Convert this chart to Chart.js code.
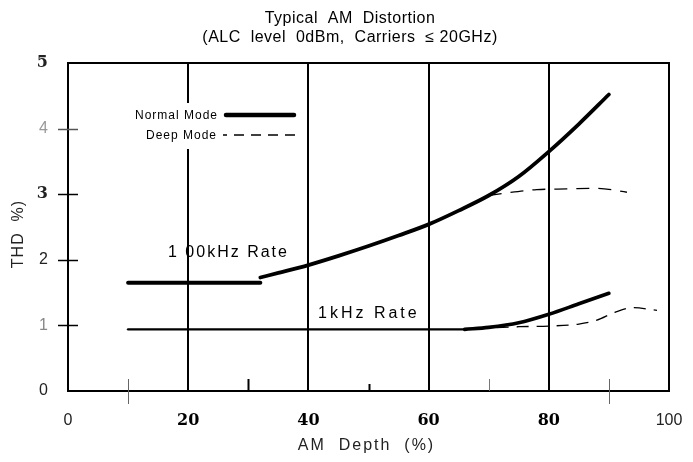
<!DOCTYPE html>
<html><head><meta charset="utf-8">
<script src="https://cdn.jsdelivr.net/npm/chart.js@4.4.1/dist/chart.umd.min.js"></script>
<style>html,body{margin:0;padding:0;background:#fff;} canvas{display:block;}</style>
</head><body>
<canvas id="c" width="693" height="462"></canvas>
<script>
// ---- data ----
const xTickValues = [0, 20, 40, 60, 80, 100];
const yTickValues = [0, 1, 2, 3, 4, 5];
const normal100kFlatX = [10, 32];
const normal100kFlatY = [1.65, 1.65];
const normal100kX = [32, 35, 40, 45, 50, 55, 60, 65, 70, 75, 80, 85, 90];
const normal100kY = [1.73, 1.80, 1.92, 2.06, 2.21, 2.37, 2.54, 2.75, 2.98, 3.27, 3.65, 4.07, 4.52];
const deep100kX = [70, 73, 78, 83, 88, 93];
const deep100kY = [2.98, 3.02, 3.07, 3.08, 3.09, 3.03];
const normal1kFlatX = [10, 66];
const normal1kFlatY = [0.94, 0.94];
const normal1kX = [66, 70, 75, 80, 85, 90];
const normal1kY = [0.94, 0.97, 1.04, 1.17, 1.33, 1.49];
const deep1kX = [68, 75, 80, 85, 88, 91, 94, 98];
const deep1kY = [0.95, 0.98, 0.99, 1.02, 1.08, 1.20, 1.27, 1.23];
const minorXTicks = [10, 30, 50, 70, 90];
const titleLines = ['Typical  AM  Distortion', '(ALC  level  0dBm,  Carriers  \u2264 20GHz)'];
const xAxisTitle = 'AM  Depth  (%)';
const yAxisTitle = 'THD  %)';
const legendLabels = ['Normal Mode', 'Deep Mode'];
const rateLabels = ['1 00kHz Rate', '1kHz Rate'];

const pts = (xs, ys) => xs.map((x, i) => ({x: x, y: ys[i]}));
const base = {borderColor: '#000', pointRadius: 0, fill: false, cubicInterpolationMode: 'monotone', borderCapStyle: 'round', borderJoinStyle: 'round'};

const boldSerif = {family: '"DejaVu Serif", serif', size: 16, weight: 'bold'};
const plainSans = {family: '"Liberation Sans", Arial, sans-serif', size: 16, weight: 'normal'};

const deco = {
  id: 'deco',
  beforeDatasetsDraw(chart) {
    const {ctx} = chart;
    ctx.save();
    // white patch behind legend text
    ctx.fillStyle = '#fff';
    ctx.fillRect(126, 103, 96, 46);
    // legend
    ctx.fillStyle = '#000';
    ctx.font = '12px "Liberation Sans", Arial, sans-serif';
    ctx.letterSpacing = '1px';
    ctx.textAlign = 'right';
    ctx.textBaseline = 'middle';
    ctx.fillText(legendLabels[0], 218, 116);
    ctx.fillText(legendLabels[1], 217, 136);
    ctx.strokeStyle = '#000';
    ctx.lineCap = 'round';
    ctx.lineWidth = 4.5;
    ctx.beginPath(); ctx.moveTo(226, 115); ctx.lineTo(294, 115); ctx.stroke();
    ctx.lineWidth = 1.5; ctx.lineCap = 'butt';
    ctx.setLineDash([10, 7]); ctx.lineDashOffset = 6;
    ctx.beginPath(); ctx.moveTo(223, 135); ctx.lineTo(295, 135); ctx.stroke();
    ctx.setLineDash([]);
    // rate labels
    ctx.textAlign = 'left';
    ctx.font = '16px "Liberation Sans", Arial, sans-serif';
    ctx.letterSpacing = '2px';
    ctx.fillText(rateLabels[0], 168, 253);
    ctx.letterSpacing = '3px';
    ctx.fillText(rateLabels[1], 318, 314);
    ctx.restore();
  },
  afterDatasetsDraw(chart) {
    const {ctx, chartArea: a, scales: {x, y}} = chart;
    ctx.save();
    ctx.strokeStyle = '#000';
    ctx.lineWidth = 2;
    ctx.strokeRect(a.left, a.top, a.right - a.left, a.bottom - a.top);
    // y ticks crossing axis
    ctx.lineWidth = 1.5;
    [1, 2, 3, 4].forEach(v => {
      const py = Math.round(y.getPixelForValue(v)) + 0.5;
      ctx.strokeStyle = v === 4 ? '#555' : '#000';
      ctx.beginPath(); ctx.moveTo(a.left - 10, py); ctx.lineTo(a.left + 10, py); ctx.stroke();
    });
    // minor x ticks
    minorXTicks.forEach(v => {
      const px = Math.round(x.getPixelForValue(v)) + 0.5;
      let top = a.bottom - 12, bot = a.bottom, col = '#000', w = 2;
      if (v === 10 || v === 90) { bot = a.bottom + 13; col = '#666'; w = 1; }
      if (v === 70) { col = '#777'; w = 1; }
      if (v === 50) { top = a.bottom - 7; }
      ctx.strokeStyle = col; ctx.lineWidth = w;
      ctx.beginPath(); ctx.moveTo(px, top); ctx.lineTo(px, bot); ctx.stroke();
    });
    // titles
    ctx.fillStyle = '#000';
    ctx.textAlign = 'center';
    ctx.textBaseline = 'middle';
    ctx.font = '16px "Liberation Sans", Arial, sans-serif';
    ctx.letterSpacing = '0.5px';
    ctx.fillText(titleLines[0], 350, 19);
    ctx.fillText(titleLines[1], 350, 38);
    ctx.font = '16px "Liberation Sans", Arial, sans-serif';
    ctx.letterSpacing = '2px';
    ctx.fillStyle = '#222';
    ctx.fillText(xAxisTitle, (a.left + a.right) / 2 - 2, 446);
    ctx.translate(19, 234);
    ctx.rotate(-Math.PI / 2);
    ctx.letterSpacing = '1px';
    ctx.fillText(yAxisTitle, 0, 0);
    ctx.restore();
  }
};

new Chart(document.getElementById('c'), {
  type: 'line',
  data: {
    datasets: [
      Object.assign({}, base, {label: 'Normal 100kHz flat', data: pts(normal100kFlatX, normal100kFlatY), borderWidth: 4, cubicInterpolationMode: 'default', tension: 0}),
      Object.assign({}, base, {label: 'Normal 100kHz', data: pts(normal100kX, normal100kY), borderWidth: 3.8}),
      Object.assign({}, base, {label: 'Deep 100kHz', data: pts(deep100kX, deep100kY), borderWidth: 1.3, borderDash: [13, 9], borderCapStyle: 'butt'}),
      Object.assign({}, base, {label: 'Normal 1kHz flat', data: pts(normal1kFlatX, normal1kFlatY), borderWidth: 2.4, cubicInterpolationMode: 'default', tension: 0}),
      Object.assign({}, base, {label: 'Normal 1kHz', data: pts(normal1kX, normal1kY), borderWidth: 3.6}),
      Object.assign({}, base, {label: 'Deep 1kHz', data: pts(deep1kX, deep1kY), borderWidth: 1.3, borderDash: [12, 8], borderCapStyle: 'butt'})
    ]
  },
  options: {
    responsive: false,
    animation: false,
    devicePixelRatio: 1,
    layout: {padding: {top: 63, right: 24, left: 0, bottom: 0}},
    plugins: {legend: {display: false}, title: {display: false}, tooltip: {enabled: false}},
    scales: {
      x: {
        type: 'linear', min: 0, max: 100,
        afterBuildTicks: s => { s.ticks = xTickValues.map(v => ({value: v})); },
        afterFit: s => { s.height = 71; s.paddingLeft = 0; s.paddingRight = 0; },
        border: {display: false},
        grid: {
          drawTicks: false,
          lineWidth: 2,
          color: c => (c.tick && c.tick.value > 0 && c.tick.value < 100) ? '#000' : 'rgba(0,0,0,0)'
        },
        ticks: {
          padding: 20,
          color: c => (c.tick && (c.tick.value === 0 || c.tick.value === 100)) ? '#222' : '#000',
          font: c => (c.tick && (c.tick.value === 0 || c.tick.value === 100)) ? plainSans : boldSerif,
          maxRotation: 0,
          autoSkip: false
        }
      },
      y: {
        type: 'linear', min: 0, max: 5,
        afterBuildTicks: s => { s.ticks = yTickValues.map(v => ({value: v})); },
        afterFit: s => { s.width = 68; s.paddingTop = 0; s.paddingBottom = 0; },
        border: {display: false},
        grid: {display: false, drawTicks: false},
        ticks: {
          padding: 20,
          color: c => {
            const v = c.tick ? c.tick.value : 0;
            if (v === 1) return '#888';
            if (v === 4) return '#999';
            return '#222';
          },
          font: c => {
            const v = c.tick ? c.tick.value : 0;
            return (v === 3 || v === 5) ? boldSerif : plainSans;
          },
          autoSkip: false
        }
      }
    }
  },
  plugins: [deco]
});
</script>
</body></html>
